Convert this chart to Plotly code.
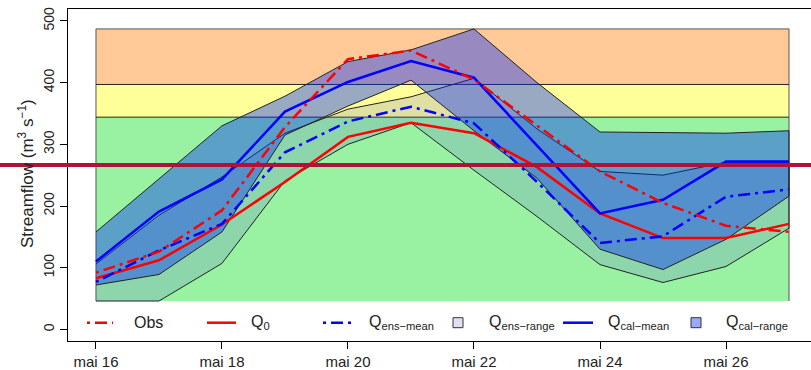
import plotly.graph_objects as go

# ---------------- data ----------------
days = [16, 17, 18, 19, 20, 21, 22, 23, 24, 25, 26, 27]
tick_days = [16, 18, 20, 22, 24, 26]
tick_labels = ["mai 16", "mai 18", "mai 20", "mai 22", "mai 24", "mai 26"]
y_ticks = [0, 100, 200, 300, 400, 500]

obs = [92, 126, 193, 328, 438, 452, 405, 331, 256, 205, 168, 158]
q0 = [83, 112, 170, 239, 312, 335, 318, 263, 188, 148, 148, 171]
ens_mean = [77, 128, 171, 287, 337, 361, 334, 239, 140, 151, 215, 227]
cal_mean = [110, 191, 243, 353, 401, 435, 408, 298, 188, 210, 272, 272]
ens_lo = [46, 46, 107, 241, 300, 335, 258, 183, 105, 76, 102, 164]
ens_hi = [106, 185, 247, 318, 357, 377, 407, 325, 256, 250, 271, 271]
cal_lo = [72, 89, 158, 315, 362, 404, 322, 245, 130, 97, 146, 216]
cal_hi = [158, 244, 330, 378, 434, 453, 487, 400, 320, 319, 318, 322]

band_limits = [46, 344, 397, 487]
ref_level = 266.5

# ---------------- styling ----------------
W, H = 811, 370
ML, MR, MT, MB = 68, 0, 9, 29
XMIN, XMAX = 15.556, 27.349
YMIN, YMAX = -18.8, 519.3
FONT = "Liberation Sans, Arial, sans-serif"
band_colors = ["#98F2A2", "#FFFF99", "#FFCA98"]
ens_fill = "rgba(102,102,204,0.2)"
cal_fill = "rgba(0,40,255,0.4)"
RED = "#FF0000"
BLUE = "#0000FF"
DOTDASH = "3px,5px,12px,5px"
LW = 2.5

PW = W - ML - MR
PH = H - MT - MB


def px_x(x):
    return (x - ML) / PW


def px_y(y):
    return (H - MB - y) / PH


fig = go.Figure()

# background bands
d0, dN = days[0], days[-1]
for i, col in enumerate(band_colors):
    lo, hi = band_limits[i], band_limits[i + 1]
    fig.add_trace(go.Scatter(x=[d0, dN, dN, d0, d0], y=[lo, lo, hi, hi, lo],
                             fill="toself", fillcolor=col, mode="lines",
                             line=dict(width=0), hoverinfo="skip", showlegend=False))
fig.add_trace(go.Scatter(x=[d0, d0, dN, dN], y=[band_limits[0], band_limits[-1], band_limits[-1], band_limits[0]],
                         mode="lines", line=dict(color="#555555", width=1),
                         hoverinfo="skip", showlegend=False))
for t in band_limits[1:-1]:
    fig.add_trace(go.Scatter(x=[d0, dN], y=[t, t], mode="lines",
                             line=dict(color="#222222", width=1),
                             hoverinfo="skip", showlegend=False))

# ranges
fig.add_trace(go.Scatter(x=days + days[::-1], y=ens_hi + ens_lo[::-1], fill="toself",
                         fillcolor=ens_fill, mode="lines", line=dict(color="#222222", width=1),
                         hoverinfo="skip", showlegend=False))
fig.add_trace(go.Scatter(x=days + days[::-1], y=cal_hi + cal_lo[::-1], fill="toself",
                         fillcolor=cal_fill, mode="lines", line=dict(color="#222222", width=1),
                         hoverinfo="skip", showlegend=False))

# lines
fig.add_trace(go.Scatter(x=days, y=q0, mode="lines", line=dict(color=RED, width=LW), showlegend=False))
fig.add_trace(go.Scatter(x=days, y=ens_mean, mode="lines", line=dict(color=BLUE, width=LW, dash=DOTDASH), showlegend=False))
fig.add_trace(go.Scatter(x=days, y=cal_mean, mode="lines", line=dict(color=BLUE, width=LW), showlegend=False))
fig.add_trace(go.Scatter(x=days, y=obs, mode="lines", line=dict(color=RED, width=LW, dash=DOTDASH), showlegend=False))

shapes = []
# reference horizontal line across whole figure
ry = (ref_level - YMIN) / (YMAX - YMIN)
shapes.append(dict(type="line", xref="paper", yref="paper", x0=px_x(0), x1=px_x(W), y0=ry, y1=ry,
                   line=dict(color="#B0123A", width=4), layer="above"))

# manual legend
leg_y = 322.7
legend_items = [
    ("line", RED, DOTDASH, 87, 113, "Obs", 132),
    ("line", RED, "solid", 207, 236, "Q<sub>0</sub>", 249),
    ("line", BLUE, DOTDASH, 323, 351, "Q<sub>ens\u2212mean</sub>", 367),
    ("box", "rgb(224,224,245)", None, 453, 463, "Q<sub>ens\u2212range</sub>", 487),
    ("line", BLUE, "solid", 563, 593, "Q<sub>cal\u2212mean</sub>", 606),
    ("box", "rgb(153,169,255)", None, 691, 701, "Q<sub>cal\u2212range</sub>", 724),
]
annotations = []
for kind, col, dash, xa, xb, label, tx in legend_items:
    if kind == "line":
        shapes.append(dict(type="line", xref="paper", yref="paper", x0=px_x(xa), x1=px_x(xb),
                           y0=px_y(leg_y), y1=px_y(leg_y), line=dict(color=col, width=LW, dash=dash)))
    else:
        shapes.append(dict(type="rect", xref="paper", yref="paper", x0=px_x(xa), x1=px_x(xb),
                           y0=px_y(leg_y + 5), y1=px_y(leg_y - 5), fillcolor=col,
                           line=dict(color="#333333", width=1)))
    annotations.append(dict(xref="paper", yref="paper", x=px_x(tx), y=px_y(leg_y), text=label,
                            showarrow=False, xanchor="left", yanchor="middle",
                            font=dict(family=FONT, size=16, color="#222222")))

# y-axis title
annotations.append(dict(xref="paper", yref="paper", x=px_x(26), y=px_y(174),
                        text="Streamflow (m<sup>3</sup> s<sup>\u22121</sup>)", textangle=-90,
                        showarrow=False, xanchor="center", yanchor="middle",
                        font=dict(family=FONT, size=17, color="#222222")))

fig.update_layout(
    width=W, height=H,
    margin=dict(l=ML, r=MR, t=MT, b=MB, pad=0),
    paper_bgcolor="white", plot_bgcolor="white",
    showlegend=False,
    shapes=shapes, annotations=annotations,
    xaxis=dict(range=[XMIN, XMAX], tickvals=tick_days, ticktext=tick_labels,
               ticks="outside", ticklen=7, tickcolor="black", showline=True, linecolor="black",
               linewidth=1, mirror=True, showgrid=False, zeroline=False,
               tickfont=dict(family=FONT, size=15, color="#222222")),
    yaxis=dict(range=[YMIN, YMAX], tickvals=y_ticks, tickangle=-90,
               ticks="outside", ticklen=7, tickcolor="black", showline=True, linecolor="black",
               linewidth=1, showgrid=False, zeroline=False,
               tickfont=dict(family=FONT, size=14, color="#222222")),
)

fig.write_html("out.html")
